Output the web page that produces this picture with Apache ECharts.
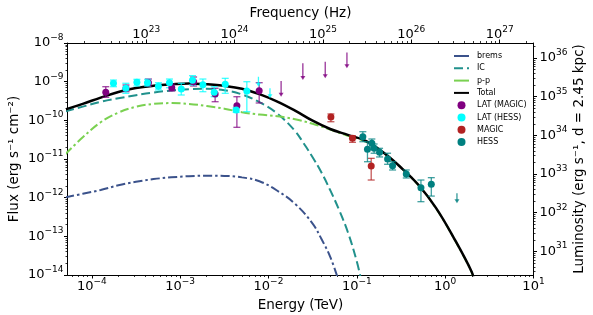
<!DOCTYPE html>
<html><head><meta charset="utf-8">
<script src="https://cdn.jsdelivr.net/npm/echarts@6/dist/echarts.min.js"></script>
<style>html,body{margin:0;padding:0;background:#fff}#c{width:593px;height:315px}</style>
</head><body><div id="c"></div>
<script>
// ---------------- data (energy in TeV, flux in erg s^-1 cm^-2) ----------------
const bremsE = [5.0e-5, 7.9e-5, 1.26e-4, 2.0e-4, 3.16e-4, 5.0e-4, 7.9e-4, 1.26e-3, 2.0e-3, 3.16e-3, 5.0e-3, 7.9e-3, 1.26e-2, 2.0e-2, 3.16e-2, 3.98e-2, 5.0e-2, 6.03e-2];
const bremsF = [1.02e-12, 1.26e-12, 1.58e-12, 2.09e-12, 2.57e-12, 3.02e-12, 3.35e-12, 3.59e-12, 3.70e-12, 3.66e-12, 3.35e-12, 2.66e-12, 1.51e-12, 6.92e-13, 2.14e-13, 8.5e-14, 2.95e-14, 8.9e-15];

const icE = [5.0e-5, 7.9e-5, 1.26e-4, 2.0e-4, 3.16e-4, 5.0e-4, 7.9e-4, 1.26e-3, 2.0e-3, 3.16e-3, 5.0e-3, 7.9e-3, 1.26e-2, 2.0e-2, 2.51e-2, 3.16e-2, 3.98e-2, 5.0e-2, 6.31e-2, 7.94e-2, 0.1, 0.11];
const icF = [1.70e-10, 2.26e-10, 3.02e-10, 3.72e-10, 4.47e-10, 5.25e-10, 5.89e-10, 6.38e-10, 6.53e-10, 6.03e-10, 4.68e-10, 2.95e-10, 1.49e-10, 5.30e-11, 2.51e-11, 1.11e-11, 4.47e-12, 1.56e-12, 4.79e-13, 1.26e-13, 2.24e-14, 8.9e-15];

const ppE = [5.0e-5, 7.9e-5, 1.26e-4, 2.0e-4, 3.16e-4, 5.0e-4, 7.9e-4, 1.26e-3, 2.0e-3, 3.16e-3, 5.0e-3, 7.9e-3, 1.26e-2, 2.0e-2, 3.16e-2, 5.0e-2, 7.9e-2, 0.126, 0.2, 0.316, 0.5, 0.79, 1.26, 2.0, 2.1];
const ppF = [1.32e-11, 3.63e-11, 8.91e-11, 1.585e-10, 2.24e-10, 2.66e-10, 2.79e-10, 2.66e-10, 2.34e-10, 2.0e-10, 1.62e-10, 1.41e-10, 1.27e-10, 1.07e-10, 8.13e-11, 5.75e-11, 3.98e-11, 2.82e-11, 1.43e-11, 5.96e-12, 2.09e-12, 5.25e-13, 8.7e-14, 1.17e-14, 7.0e-15];

const totE = [5.0e-5, 7.9e-5, 1.26e-4, 2.0e-4, 3.16e-4, 5.0e-4, 7.9e-4, 1.26e-3, 2.0e-3, 3.16e-3, 5.0e-3, 7.9e-3, 1.26e-2, 2.0e-2, 3.16e-2, 5.0e-2, 7.9e-2, 0.126, 0.2, 0.316, 0.5, 0.79, 1.26, 2.0, 2.1];
const totF = [1.905e-10, 2.67e-10, 3.855e-10, 5.41e-10, 6.82e-10, 7.82e-10, 8.49e-10, 8.95e-10, 8.55e-10, 7.80e-10, 6.58e-10, 4.75e-10, 3.05e-10, 1.78e-10, 9.77e-11, 5.97e-11, 4.2e-11, 2.95e-11, 1.466e-11, 6.04e-12, 2.12e-12, 5.35e-13, 8.9e-14, 1.2e-14, 7.5e-15];

// LAT (MAGIC)
const latME  = [1.44e-4, 2.44e-4, 4.38e-4, 8.05e-4, 1.42e-3, 2.49e-3, 4.39e-3, 7.85e-3];
const latMF  = [5.31e-10, 6.75e-10, 9.4e-10, 6.98e-10, 9.98e-10, 4.8e-10, 2.39e-10, 5.83e-10];
const latMLo = [3.94e-10, 5.5e-10, 7.73e-10, 5.74e-10, 7.73e-10, 3.03e-10, 6.6e-11, 2.81e-10];
const latMHi = [7.41e-10, 8.2e-10, 1.17e-9, 8.7e-10, 1.32e-9, 6.75e-10, 4.08e-10, 9.4e-10];
const latMulE   = [1.39e-2, 2.45e-2, 4.39e-2, 7.73e-2];
const latMulF   = [1.04e-9, 2.99e-9, 3.28e-9, 5.68e-9];
const latMulTip = [4.08e-10, 1.1e-9, 1.22e-9, 2.22e-9];

// LAT (HESS)
const latHE  = [1.76e-4, 2.43e-4, 3.24e-4, 4.27e-4, 5.68e-4, 7.57e-4, 1.03e-3, 1.38e-3, 1.81e-3, 2.43e-3, 3.24e-3, 4.31e-3, 5.69e-3];
const latHF  = [9.08e-10, 6.75e-10, 9.64e-10, 9.4e-10, 7.59e-10, 9.4e-10, 6.46e-10, 1.08e-9, 8.36e-10, 5.31e-10, 8.55e-10, 1.85e-10, 5.74e-10];
const latHLo = [7.41e-10, 5.0e-10, 7.73e-10, 7.73e-10, 6.1e-10, 6.98e-10, 4.52e-10, 8.2e-10, 5.5e-10, 4.08e-10, 5.0e-10, 1.6e-10, 1.67e-10];
const latHHi = [1.1e-9, 9.08e-10, 1.15e-9, 1.15e-9, 9.4e-10, 1.17e-9, 9.08e-10, 1.43e-9, 1.17e-9, 7.41e-10, 1.22e-9, 2.1e-10, 9.98e-10];
const latHulE   = [7.7e-3, 1.04e-2];
const latHulF   = [1.34e-9, 6.75e-10];
const latHulTip = [7.41e-10, 3.72e-10];

// MAGIC
const magE  = [5.09e-2, 8.93e-2, 0.1455];
const magF  = [1.22e-10, 3.44e-11, 6.59e-12];
const magLo = [9.2e-11, 2.7e-11, 2.86e-12];
const magHi = [1.46e-10, 4.01e-11, 1.04e-11];

// HESS
const hessE  = [0.117, 0.148, 0.132, 0.157, 0.181, 0.223, 0.254, 0.363, 0.532, 0.697];
const hessF  = [3.78e-11, 2.55e-11, 1.78e-11, 1.89e-11, 1.49e-11, 1.0e-11, 6.71e-12, 4.09e-12, 1.81e-12, 2.22e-12];
const hessLo = [2.8e-11, 2.04e-11, 8.5e-12, 1.41e-11, 1.13e-11, 7.3e-12, 5.2e-12, 3.23e-12, 7.87e-13, 1.1e-12];
const hessHi = [5.08e-11, 3.29e-11, 2.8e-11, 2.44e-11, 1.89e-11, 1.41e-11, 8.53e-12, 5.2e-12, 2.86e-12, 3.29e-12];
const hessulE   = [1.36];
const hessulF   = [1.3e-12];
const hessulTip = [7.16e-13];

// tick exponents
const energyTicks = [-4, -3, -2, -1, 0, 1];
const freqTicks   = [23, 24, 25, 26, 27];
const fluxTicks   = [-14, -13, -12, -11, -10, -9, -8];
const lumTicks    = [31, 32, 33, 34, 35, 36];

// ---------------- chart ----------------
const FF = 'DejaVu Sans';
const X_MIN = Math.log10(5.31e-5), X_MAX = 1, Y_MIN = -14, Y_MAX = -8;
const FREQ_OFF = Math.log10(2.418e26);   // log nu(Hz) = log E(TeV) + FREQ_OFF
const LUM_OFF = 44.39;                    // log L = log F + LUM_OFF

const L = Math.log10;
const pts = (E, F) => E.map((e, i) => [L(e), L(F[i])]);

function supLabel(exp) {
  return '{b|10}{s|' + (exp < 0 ? '\u2212' + (-exp) : String(exp)) + '}';
}
const rich = {
  b: { fontSize: 13, fontFamily: FF, color: '#000', lineHeight: 20 },
  s: { fontSize: 9, fontFamily: FF, color: '#000', verticalAlign: 'top', lineHeight: 9 }
};
function minors(lo, hi, off) {
  const out = [];
  for (let n = Math.floor(lo + off) - 1; n <= Math.ceil(hi + off); n++) {
    for (let k = 2; k <= 9; k++) {
      const v = n + L(k) - off;
      if (v >= lo && v <= hi) out.push(v);
    }
  }
  return out;
}
const nameStyle = { fontSize: 13.5, fontFamily: FF, color: '#000' };
const lineBlack = { show: true, onZero: false, lineStyle: { color: '#000', width: 1 } };

function majorAxis(pos, min, max, vals, fmt, margin, extra) {
  return Object.assign({
    type: 'value', position: pos, min: min, max: max,
    axisLine: lineBlack,
    axisTick: { show: true, customValues: vals, length: 3.5, lineStyle: { color: '#000', width: 1 } },
    axisLabel: { show: true, customValues: vals, formatter: fmt, rich: rich, margin: margin },
    splitLine: { show: false }
  }, extra || {});
}
function minorAxis(pos, min, max, vals) {
  return {
    type: 'value', position: pos, min: min, max: max,
    axisLine: { show: false, onZero: false },
    axisTick: { show: true, customValues: vals, length: 2, lineStyle: { color: '#000', width: 0.8 } },
    axisLabel: { show: false },
    splitLine: { show: false }
  };
}

const xAxes = [
  majorAxis('bottom', X_MIN, X_MAX, energyTicks, v => supLabel(Math.round(v)), 2,
    { name: 'Energy (TeV)', nameLocation: 'middle', nameGap: 19, nameTextStyle: nameStyle }),
  minorAxis('bottom', X_MIN, X_MAX, minors(X_MIN, X_MAX, 0)),
  majorAxis('top', X_MIN, X_MAX, freqTicks.map(n => n - FREQ_OFF), v => supLabel(Math.round(v + FREQ_OFF)), -2,
    { name: 'Frequency (Hz)', nameLocation: 'middle', nameGap: 18, nameTextStyle: nameStyle }),
  minorAxis('top', X_MIN, X_MAX, minors(X_MIN, X_MAX, FREQ_OFF))
];
const yAxes = [
  majorAxis('left', Y_MIN, Y_MAX, fluxTicks, v => supLabel(Math.round(v)), 4,
    { name: 'Flux (erg s\u207B\u00B9 cm\u207B\u00B2)', nameLocation: 'middle', nameGap: 46, nameRotate: 90,
      nameMoveOverlap: false, nameTextStyle: nameStyle }),
  minorAxis('left', Y_MIN, Y_MAX, minors(Y_MIN, Y_MAX, 0)),
  majorAxis('right', Y_MIN, Y_MAX, lumTicks.map(n => n - LUM_OFF), v => supLabel(Math.round(v + LUM_OFF)), 6,
    { name: 'Luminosity (erg s\u207B\u00B9, d = 2.45 kpc)', nameLocation: 'middle', nameGap: 39, nameRotate: 90,
      nameMoveOverlap: false, nameTextStyle: nameStyle }),
  minorAxis('right', Y_MIN, Y_MAX, minors(Y_MIN, Y_MAX, LUM_OFF))
];

function lineSeries(name, E, F, color, width, dash, z) {
  return {
    name: name, type: 'line', xAxisIndex: 0, yAxisIndex: 0, data: pts(E, F),
    symbol: 'none', showSymbol: false, smooth: 0.4, clip: true,
    lineStyle: { color: color, width: width, type: dash },
    itemStyle: { color: color }, z: z, silent: true
  };
}
function errSeries(E, lo, hi, color) {
  return {
    type: 'custom', xAxisIndex: 0, yAxisIndex: 0, silent: true, z: 3,
    encode: { x: 0, y: [1, 2] },
    data: E.map((e, i) => [L(e), L(lo[i]), L(hi[i])]),
    renderItem: function (params, api) {
      const a = api.coord([api.value(0), api.value(1)]);
      const b = api.coord([api.value(0), api.value(2)]);
      const c = 3.5;
      const st = { stroke: color, lineWidth: 1.3, opacity: 0.75 };
      return { type: 'group', children: [
        { type: 'line', shape: { x1: a[0], y1: a[1], x2: b[0], y2: b[1] }, style: st },
        { type: 'line', shape: { x1: a[0] - c, y1: a[1], x2: a[0] + c, y2: a[1] }, style: st },
        { type: 'line', shape: { x1: b[0] - c, y1: b[1], x2: b[0] + c, y2: b[1] }, style: st }
      ]};
    }
  };
}
function ulSeries(E, top, tip, color) {
  return {
    type: 'custom', xAxisIndex: 0, yAxisIndex: 0, silent: true, z: 3,
    encode: { x: 0, y: [1, 2] },
    data: E.map((e, i) => [L(e), L(top[i]), L(tip[i])]),
    renderItem: function (params, api) {
      const a = api.coord([api.value(0), api.value(1)]);
      const b = api.coord([api.value(0), api.value(2)]);
      return { type: 'group', children: [
        { type: 'line', shape: { x1: a[0], y1: a[1], x2: b[0], y2: b[1] - 2 }, style: { stroke: color, lineWidth: 1.3, opacity: 0.8 } },
        { type: 'polygon', shape: { points: [[b[0] - 2.5, b[1] - 4], [b[0] + 2.5, b[1] - 4], [b[0], b[1]]] }, style: { fill: color, opacity: 0.8 } }
      ]};
    }
  };
}
function scatterSeries(name, E, F, color) {
  return {
    name: name, type: 'scatter', xAxisIndex: 0, yAxisIndex: 0, data: pts(E, F),
    symbol: 'circle', symbolSize: 7, itemStyle: { color: color, opacity: 1 }, z: 4, silent: true
  };
}

const C_BREMS = '#3b528b', C_IC = '#21918c', C_PP = '#7ad151';
const C_LATM = '#800080', C_LATH = '#00ffff', C_MAG = '#b22222', C_HESS = '#008080';
const noSym = { opacity: 0 };

const chart = echarts.init(document.getElementById('c'), null, { renderer: 'canvas' });
chart.setOption({
  animation: false,
  backgroundColor: '#fff',
  textStyle: { fontFamily: FF },
  grid: { left: 67.5, right: 59.5, top: 43, bottom: 40, containLabel: false, outerBoundsMode: 'none' },
  xAxis: xAxes,
  yAxis: yAxes,
  legend: {
    orient: 'vertical', left: 448, top: 47, itemWidth: 15, itemHeight: 8, itemGap: 4.3,
    textStyle: { fontSize: 8, fontFamily: FF, color: '#000', padding: [0, 0, 0, 3] },
    data: [
      { name: 'brems', itemStyle: noSym, lineStyle: { type: 'solid' } },
      { name: 'IC', itemStyle: noSym },
      { name: 'p-p', itemStyle: noSym, lineStyle: { type: 'solid' } },
      { name: 'Total', itemStyle: noSym },
      'LAT (MAGIC)', 'LAT (HESS)', 'MAGIC', 'HESS'
    ]
  },
  series: [
    lineSeries('brems', bremsE, bremsF, C_BREMS, 2, [9, 3, 2.5, 3], 2),
    lineSeries('IC', icE, icF, C_IC, 2, [9, 4], 2),
    lineSeries('p-p', ppE, ppF, C_PP, 2, [9, 3, 2.5, 3], 2),
    lineSeries('Total', totE, totF, '#000', 2.5, 'solid', 2),
    errSeries(latME, latMLo, latMHi, C_LATM),
    ulSeries(latMulE, latMulF, latMulTip, C_LATM),
    errSeries(latHE, latHLo, latHHi, C_LATH),
    ulSeries(latHulE, latHulF, latHulTip, C_LATH),
    errSeries(magE, magLo, magHi, C_MAG),
    errSeries(hessE, hessLo, hessHi, C_HESS),
    ulSeries(hessulE, hessulF, hessulTip, C_HESS),
    scatterSeries('LAT (MAGIC)', latME, latMF, C_LATM),
    scatterSeries('LAT (HESS)', latHE, latHF, C_LATH),
    scatterSeries('MAGIC', magE, magF, C_MAG),
    scatterSeries('HESS', hessE, hessF, C_HESS)
  ]
});
</script>
</body></html>
